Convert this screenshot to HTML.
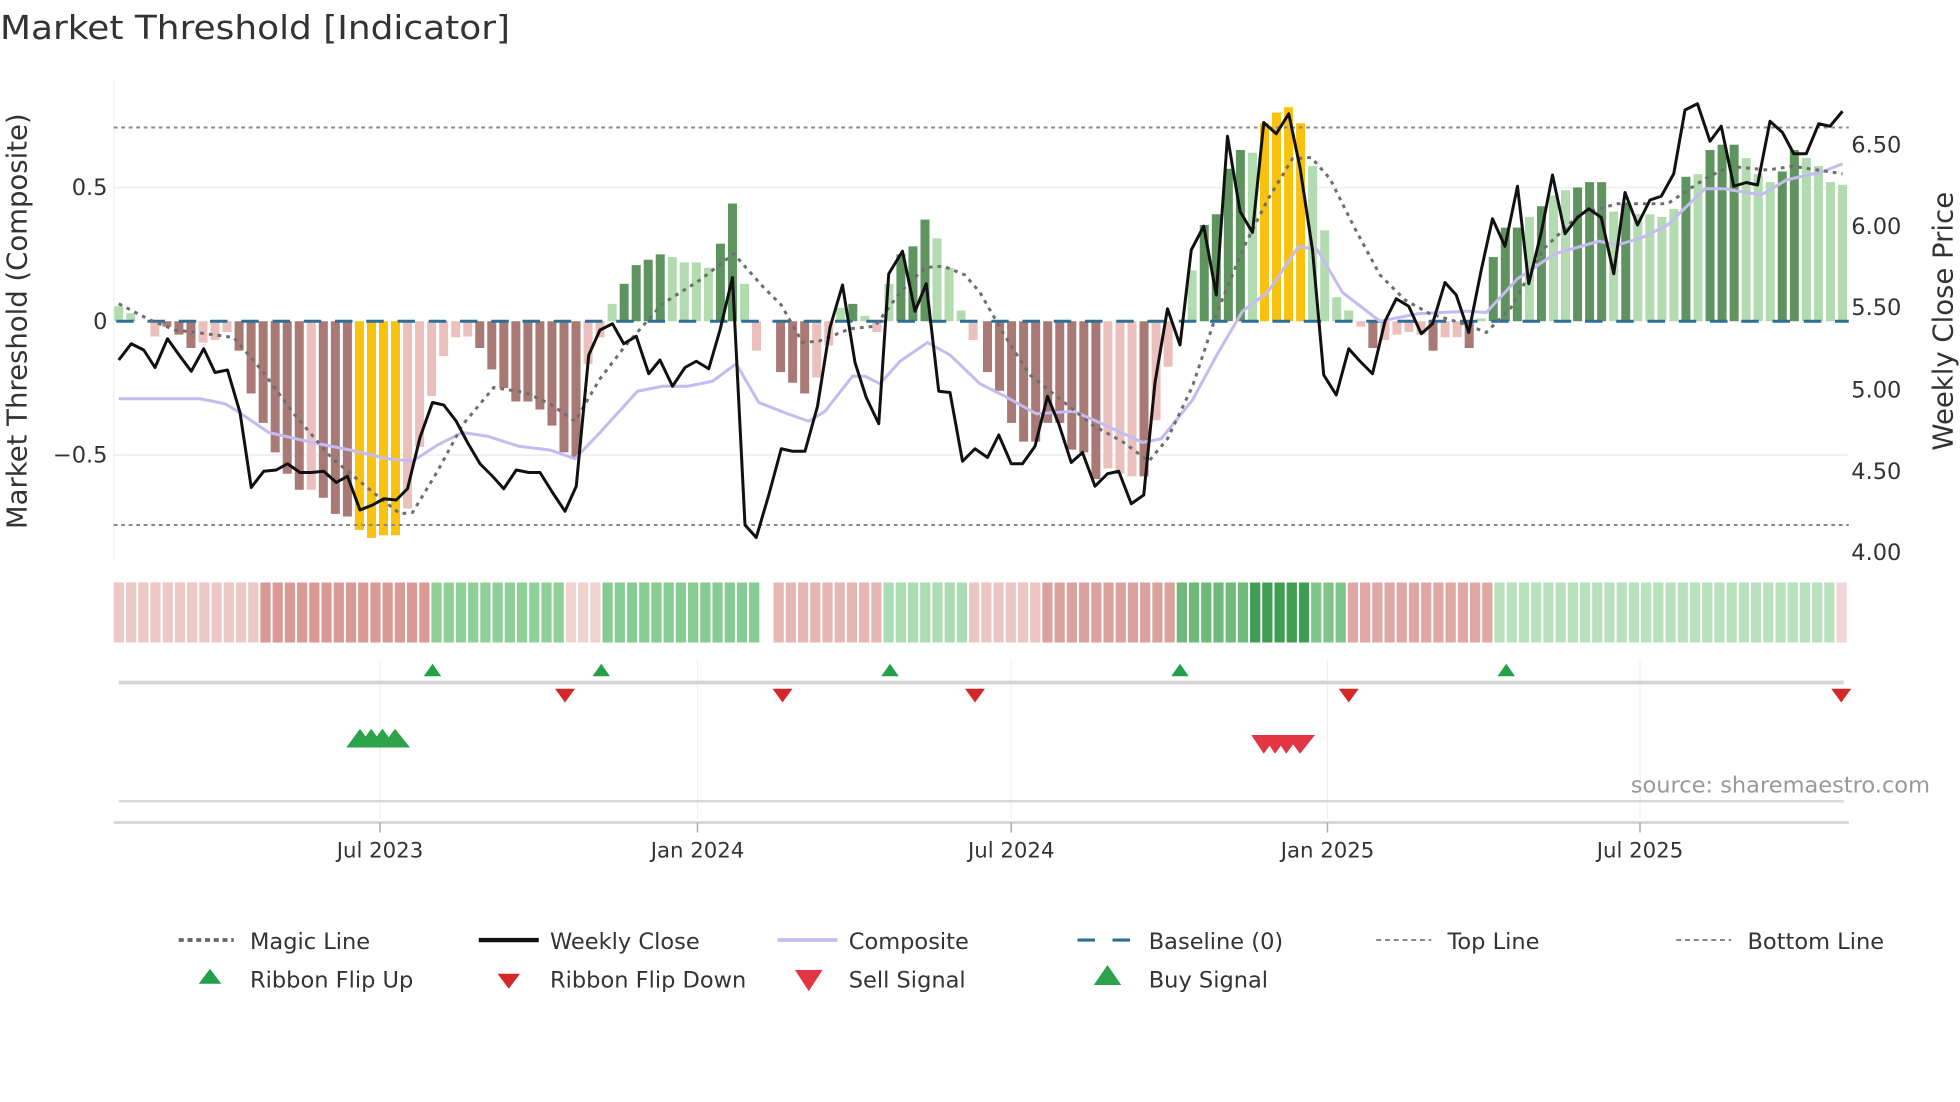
<!DOCTYPE html>
<html><head><meta charset="utf-8"><style>
html,body{margin:0;padding:0;background:#fff;}
svg{display:block;font-family:"DejaVu Sans","Liberation Sans",sans-serif;}
</style></head><body>
<svg id="s" width="1960" height="1102" viewBox="0 0 1568 881.6" preserveAspectRatio="none" xmlns="http://www.w3.org/2000/svg">
<rect width="1568" height="881.6" fill="#fff"/>
<text x="0" y="31" font-size="26" fill="#333" textLength="408" lengthAdjust="spacingAndGlyphs">Market Threshold [Indicator]</text>
<!-- grids -->
<line x1="91" y1="65" x2="91" y2="448" stroke="#f2f2f6" stroke-width="1"/>
<line x1="91" y1="150" x2="1479" y2="150" stroke="#eef0f6" stroke-width="1.5"/>
<line x1="91" y1="364" x2="1479" y2="364" stroke="#eef0f6" stroke-width="1.5"/>
<g id="bars"></g>
<line x1="91" y1="102" x2="1479" y2="102" stroke="#888" stroke-width="1.6" stroke-dasharray="3,3"/>
<line x1="91" y1="420" x2="1479" y2="420" stroke="#888" stroke-width="1.6" stroke-dasharray="3,3"/>
<line x1="93" y1="257" x2="1479" y2="257" stroke="#2e6f96" stroke-width="2.4" stroke-dasharray="14,11"/>
<g id="lines"></g>
<!-- left axis -->
<text x="86" y="156" font-size="18" fill="#333" text-anchor="end">0.5</text>
<text x="86" y="263" font-size="18" fill="#333" text-anchor="end">0</text>
<text x="86" y="370" font-size="18" fill="#333" text-anchor="end">−0.5</text>
<text transform="translate(21,257) rotate(-90)" font-size="22" fill="#333" text-anchor="middle">Market Threshold (Composite)</text>
<!-- right axis -->
<text x="1481" y="122" font-size="18" fill="#333">6.50</text>
<text x="1481" y="187" font-size="18" fill="#333">6.00</text>
<text x="1481" y="252" font-size="18" fill="#333">5.50</text>
<text x="1481" y="318" font-size="18" fill="#333">5.00</text>
<text x="1481" y="383" font-size="18" fill="#333">4.50</text>
<text x="1481" y="448" font-size="18" fill="#333">4.00</text>
<text transform="translate(1562,257) rotate(-90)" font-size="22" fill="#333" text-anchor="middle">Weekly Close Price</text>
<g id="ribbon"></g>
<!-- lower panels -->
<g stroke="#eef0f4" stroke-width="1">
<line x1="304" y1="528" x2="304" y2="655"/><line x1="558" y1="528" x2="558" y2="655"/>
<line x1="809" y1="528" x2="809" y2="655"/><line x1="1062" y1="528" x2="1062" y2="655"/>
<line x1="1312" y1="528" x2="1312" y2="655"/>
</g>
<line x1="95" y1="546" x2="1475" y2="546" stroke="#d4d4d4" stroke-width="3"/>
<line x1="95" y1="641" x2="1475" y2="641" stroke="#d8d8d8" stroke-width="2"/>
<g fill="#22a04a">
<polygon points="339,541 353,541 346,531"/><polygon points="474,541 488,541 481,531"/>
<polygon points="705,541 719,541 712,531"/><polygon points="937,541 951,541 944,531"/>
<polygon points="1198,541 1212,541 1205,531"/>
</g>
<g fill="#d62728">
<polygon points="444,551 460,551 452,562"/><polygon points="618,551 634,551 626,562"/>
<polygon points="772,551 788,551 780,562"/><polygon points="1071,551 1087,551 1079,562"/>
<polygon points="1465,551 1481,551 1473,562"/>
</g>
<g fill="#2ca24a">
<polygon points="277,598 299,598 288,583"/><polygon points="286,598 308,598 297,583"/>
<polygon points="295,598 317,598 306,583"/><polygon points="305,598 328,598 316,583"/>
</g>
<g fill="#e23645">
<polygon points="1001,588 1022,588 1011,603"/><polygon points="1010,588 1031,588 1020,603"/>
<polygon points="1019,588 1040,588 1029,603"/><polygon points="1029,588 1052,588 1040,603"/>
</g>
<text x="1544" y="634" font-size="18" fill="#999" text-anchor="end">source: sharemaestro.com</text>
<line x1="91" y1="658" x2="1479" y2="658" stroke="#d0d0d0" stroke-width="2"/>
<g stroke="#aaa" stroke-width="1.2">
<line x1="304" y1="658" x2="304" y2="666"/><line x1="558" y1="658" x2="558" y2="666"/>
<line x1="809" y1="658" x2="809" y2="666"/><line x1="1062" y1="658" x2="1062" y2="666"/>
<line x1="1312" y1="658" x2="1312" y2="666"/>
</g>
<g font-size="17" fill="#333" text-anchor="middle">
<text x="304" y="686">Jul 2023</text><text x="558" y="686">Jan 2024</text>
<text x="809" y="686">Jul 2024</text><text x="1062" y="686">Jan 2025</text>
<text x="1312" y="686">Jul 2025</text>
</g>
<!-- legend -->
<g font-size="18" fill="#333">
<line x1="143" y1="752" x2="187" y2="752" stroke="#666" stroke-width="3" stroke-dasharray="4,3"/>
<text x="200" y="759">Magic Line</text>
<line x1="383" y1="752" x2="431" y2="752" stroke="#111" stroke-width="3.5"/>
<text x="440" y="759">Weekly Close</text>
<line x1="622" y1="752" x2="670" y2="752" stroke="#c4bcf0" stroke-width="3"/>
<text x="679" y="759">Composite</text>
<line x1="862" y1="752" x2="876" y2="752" stroke="#2e6f96" stroke-width="2.5"/>
<line x1="890" y1="752" x2="904" y2="752" stroke="#2e6f96" stroke-width="2.5"/>
<text x="919" y="759">Baseline (0)</text>
<line x1="1101" y1="752" x2="1145" y2="752" stroke="#888" stroke-width="1.6" stroke-dasharray="4,3"/>
<text x="1158" y="759">Top Line</text>
<line x1="1341" y1="752" x2="1385" y2="752" stroke="#888" stroke-width="1.6" stroke-dasharray="4,3"/>
<text x="1398" y="759">Bottom Line</text>
<polygon points="159,787 177,787 168,775" fill="#22a04a"/>
<text x="200" y="790">Ribbon Flip Up</text>
<polygon points="398,779 416,779 407,791" fill="#d62728"/>
<text x="440" y="790">Ribbon Flip Down</text>
<polygon points="636,776 658,776 647,793" fill="#e23645"/>
<text x="679" y="790">Sell Signal</text>
<polygon points="875,788 897,788 886,772" fill="#2ca24a"/>
<text x="919" y="790">Buy Signal</text>
</g>
</svg>
<script>
(function(){
var NS="http://www.w3.org/2000/svg";
function el(t,a,p){var e=document.createElementNS(NS,t);for(var k in a)e.setAttribute(k,a[k]);p.appendChild(e);return e;}
var z1="l.056 l.03 l0 p-.057 d-.02 d-.05 d-.1 p-.08 p-.07 p-.04 d-.11 d-.27 d-.38 d-.49 d-.57 d-.63 p-.63 d-.66 d-.72 d-.73 y-.78 y-.81 y-.8 y-.8 p-.7 p-.47 p-.28 p-.13 p-.06 p-.057 d-.1 d-.18 d-.25 d-.3 d-.3 d-.33 d-.39 d-.49 d-.51 p-.16 p-.06 l.065 g.14 g.21 g.23 g.25 l.24 l.22 l.22 l.2 g.29 g.44 l.14 p-.11 p0 d-.19 d-.23 d-.27 p-.21 p-.09 l.05 g.065 l.02 p-.04 l.14 g.25 g.28 g.38 l.31 l.2 l.04 p-.07".split(" ");
var z2="d-.19 d-.26 d-.38 d-.45 d-.45 d-.38 d-.38 d-.48 d-.49 d-.59 p-.55 p-.57 p-.58 d-.58 p-.37 p-.17 l0 l.19 g.36 g.4 g.57 g.64 l.63 y.74 y.78 y.8 y.74 l.58 l.34 l.09 l.04 p-.02 d-.1 p-.07 p-.05 p-.04 p-.05 d-.11 p-.06 p-.06 d-.1 l.01 g.24 g.35 g.35 l.39 g.43 l.47 l.49 g.5 g.52 g.52 l.41 g.44 l.4 l.4 l.39 l.42 g.54 l.55 g.64 g.66 g.66 l.61 l.55 l.52 g.56 g.64 l.61 l.58 l.52 l.51".split(" ");
var col={d:"#a97975",p:"#ebc0bc",g:"#5f9460",l:"#b2dbb0",y:"#f9c20f"};
var bars=document.getElementById("bars");
function draw(arr,x0,x1){var n=arr.length,st=(x1-x0)/(n-1);
 for(var i=0;i<n;i++){var t=arr[i][0],v=parseFloat(arr[i].slice(1));if(v===0)continue;
  var x=x0+i*st,y=257-v*214;el("rect",{x:x-3.6,y:Math.min(y,257),width:7.2,height:Math.abs(257-y),fill:col[t]},bars);}}
draw(z1,95,778.5);draw(z2,790,1474);
var L=document.getElementById("lines");
function pl(pts,attrs){attrs.points=pts;attrs.fill="none";el("polyline",attrs,L);}
var magic="95,243 120,256 140,264 165,267 187,270 210,297 235,331 265,366 295,391 320,411 330,410 350,377 370,340 395,310 420,314 440,323 460,337 480,303 500,277 530,243 560,224 587,203 610,229 625,244 642,274 655,273 680,263 700,261 720,234 740,214 755,213 772,220 784,234 804,269 824,300 849,320 874,340 899,354 919,369 934,351 954,309 974,249 994,200 1014,160 1034,127 1049,126 1064,143 1084,183 1104,220 1124,240 1144,251 1174,260 1189,266 1209,246 1234,200 1264,171 1294,163 1334,163 1364,143 1384,133 1414,136 1434,133 1474,139";
var comp="95,319 160,319 180,323 190,329 215,346 250,354 280,360 310,367 330,369 350,356 370,346 390,349 415,357 440,360 460,367 480,346 510,313 530,309 550,309 570,305 589,291 607,322 630,331 647,337 660,329 682,301 692,301 704,307 720,289 742,274 760,284 784,307 804,317 829,331 859,329 884,340 914,354 929,351 954,320 974,283 994,249 1014,234 1039,197 1054,200 1074,234 1104,257 1134,251 1174,249 1189,250 1214,223 1244,203 1279,193 1294,196 1314,190 1334,180 1364,151 1379,151 1409,156 1429,144 1459,137 1474,131";
var close="95,288 105,275 115,280 124,294 134,271 144,285 153,297 163,279 172,298 182,296 192,330 201,390 211,377 221,376 230,371 240,378 249,378 259,377 269,386 278,381 288,408 298,404 307,399 317,400 326,391 336,350 346,322 355,324 365,337 374,354 384,371 394,381 403,391 413,376 423,378 432,378 442,394 452,409 461,389 471,284 480,264 490,259 499,275 509,269 519,299 528,288 538,309 548,294 557,289 567,295 576,264 586,222 596,420 605,430 615,396 625,359 634,361 644,361 654,325 664,262 674,228 684,290 693,318 703,339 711,219 722,201 732,249 741,227 751,313 760,314 770,369 780,359 790,366 799,348 809,371 818,371 828,357 838,317 847,339 857,370 866,362 876,389 886,379 895,377 905,403 915,396 924,306 934,247 944,276 953,200 963,181 973,236 982,109 992,169 1002,186 1011,98 1021,107 1031,91 1040,134 1050,200 1059,300 1069,316 1079,279 1088,289 1098,299 1108,257 1117,239 1127,245 1137,267 1146,259 1156,226 1165,236 1175,266 1185,216 1194,175 1204,197 1214,149 1223,227 1233,186 1242,140 1252,187 1262,174 1271,167 1281,174 1291,219 1300,154 1310,180 1320,160 1329,157 1339,139 1348,88 1358,83 1368,113 1377,101 1387,149 1397,146 1406,148 1416,97 1426,106 1435,123 1445,123 1455,99 1464,101 1474,89";
pl(comp,{stroke:"#c4bcf0","stroke-width":2.4,"stroke-linejoin":"round"});
pl(magic,{stroke:"#6e6e6e","stroke-width":2.4,"stroke-dasharray":"3,4"});
pl(close,{stroke:"#111","stroke-width":2.4,"stroke-linejoin":"round"});
var R=document.getElementById("ribbon");
function c(x){
 if(x<210)return"#ecc8c6";if(x<341)return"#d99a95";if(x<448)return"#8fcf98";if(x<478)return"#f0d2d0";
 if(x<611)return"#85cb92";if(x<622)return null;if(x<709)return"#e6b6b3";if(x<777)return"#acdcb2";
 if(x<830)return"#ecc6c3";if(x<941)return"#d9a29d";if(x<1000)return"#6fba7a";if(x<1050)return"#3f9e52";
 if(x<1074)return"#7fc48a";if(x<1200)return"#dfa8a4";if(x<1470)return"#b9e1be";return"#f0d6d5";}
var n=142,st=(1479-91)/n;
for(var i=0;i<n;i++){var x=91+i*st,cc=c(x+st/2);if(!cc)continue;
 el("rect",{x:x,y:466,width:st-1.6,height:48,fill:cc},R);}
})();
</script>
</body></html>
